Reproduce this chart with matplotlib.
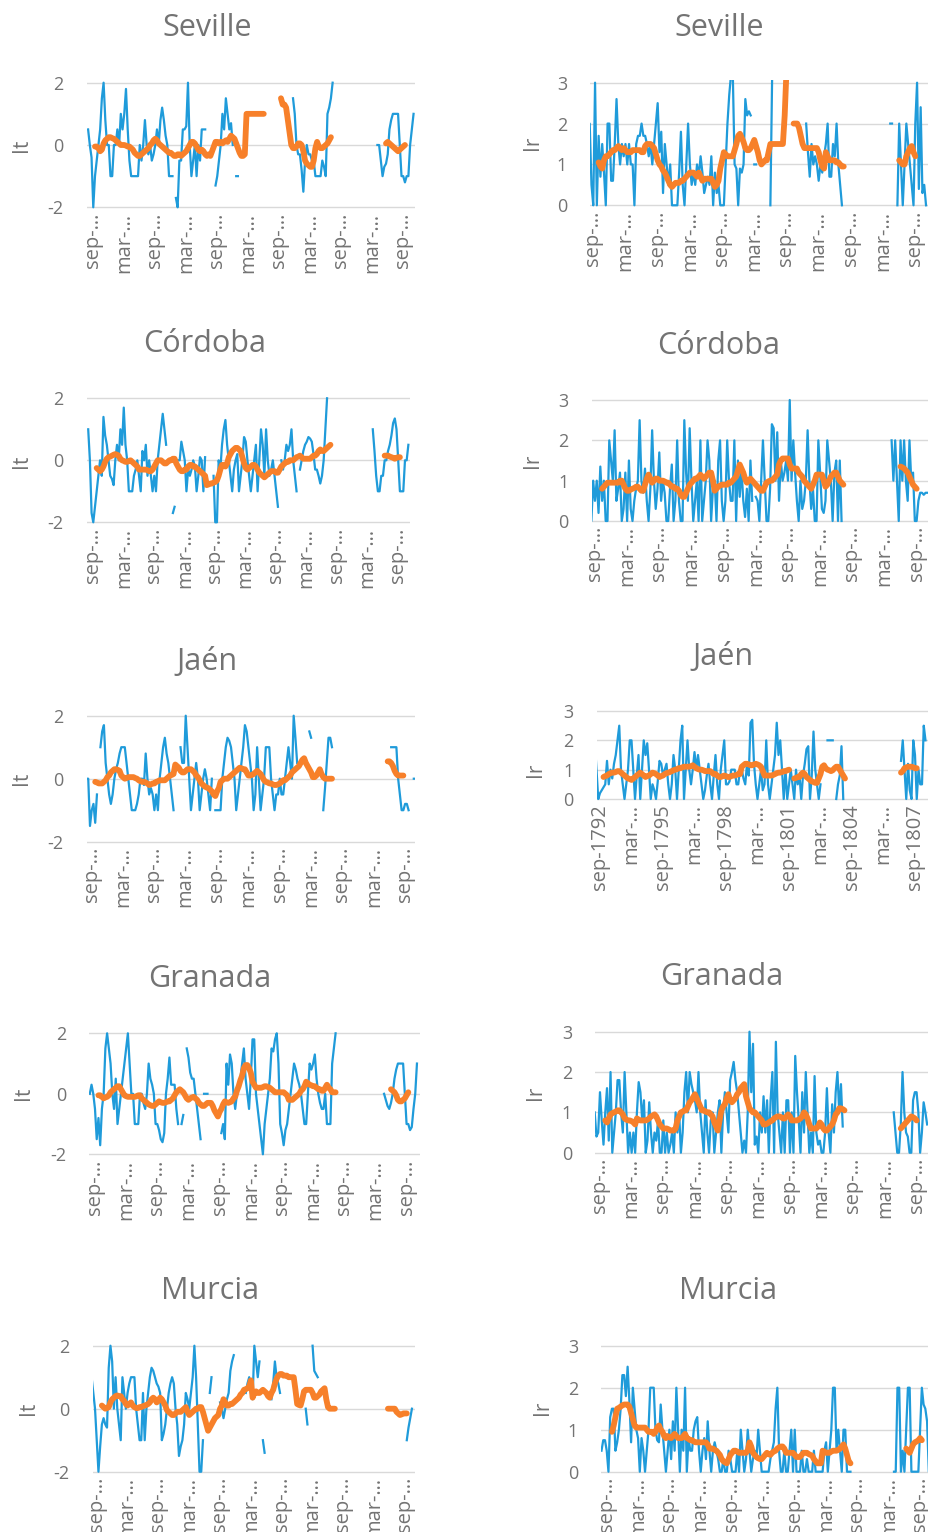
import numpy as np
import matplotlib.pyplot as plt

plt.rcParams['font.family'] = ['Open Sans', 'DejaVu Sans']

nan = np.nan

# monthly series, index 0 = jun-1792 ; blue = monthly index, orange = smoothed
sev_it = ([0.5, 0, -0.4, -2, -1, -0.5, 0, 0.5, 1.5, 2,
           0.8, 0, 0, -1, -1, 0, 0, 0.5, 0, 1,
           0.5, 1, 1.8, 0.5, -0.5, -1, -1, -1, -1, -1,
           0, -0.5, 0, 0.8, 0, -0.3, 0, -0.5, -0.3, 0,
           0.5, 0, 0.8, 1.2, 0.8, 0.3, 0, -1, -1, -1,
           nan, -1.7, -2, -0.5, -0.5, 0.5, 0.5, 0.6, 2, 0,
           -1, -0.5, 0, -1, 0, -0.5, 0.5, 0.5, 0.5, nan,
           nan, nan, nan, nan, -1.3, -1, -0.5, 0, 1, 0.5,
           1.5, 1, 0.5, 0.7, 0, nan, -1, -1]
          + [nan] * 31
          + [1.5, 1.0, 0, -0.3, -0.3, -0.8, -1.5, -0.5, 0, -0.3, -0.3, -0.5,
             -0.5, -1, -1, -1, -1, -0.5, -0.7, -1, 1, 1.2, 1.5, 2]
          + [nan] * 25
          + [0, 0, -0.5, -1, -0.7, -0.6, -0.3, 0.5, 0.8, 1, 1, 1, 1, 0, -1,
             -1, -1.2, -1, -1, 0, 0.5, 1])
sev_it_ma = ([nan] * 4
             + [-0.05, -0.05, -0.1, -0.2, -0.15, 0.05,
                0.15, 0.2, 0.25, 0.25, 0.22, 0.2, 0.15, 0.1, 0.05, 0.0,
                0.0, 0.0, -0.02, -0.05, -0.05, -0.1, -0.15, -0.25, -0.3, -0.35,
                -0.35, -0.3, -0.25, -0.2, -0.15, -0.1, 0.0, 0.05, 0.15, 0.2,
                0.15, 0.05, 0.0, -0.05, -0.1, -0.15, -0.2, -0.25, -0.25, -0.3,
                -0.35, -0.35, -0.3, -0.3, -0.35, -0.3, -0.25, -0.2, -0.1, 0.0,
                0.1, 0.1, 0.05, -0.05, -0.15, -0.2, -0.15, -0.2, -0.3, -0.35,
                -0.3, -0.35, -0.2, -0.05, 0.1, 0.1, 0.05, 0.1, 0.05, 0.1,
                0.15, 0.1, 0.2, 0.3, 0.25, 0.2, 0.05, -0.1, -0.25, -0.35,
                -0.35, -0.3, 1.0, 1.0, 1.0, 1.0, 1.0, 1.0, 1.0, 1.0,
                1.0, 1.0, 1.0]
             + [nan] * 9
             + [1.5, 1.3, 1.3, 1.2, 0.8, 0.4, 0.0, -0.1,
                -0.1, -0.05, 0.05, 0.05, 0.0, -0.2, -0.5, -0.6, -0.65, -0.7,
                -0.7, -0.5, -0.1, 0.1, -0.05, -0.1, -0.1, -0.05, 0.0, 0.05,
                0.15, 0.25]
             + [nan] * 31
             + [0.05, 0.1, 0.05, 0.0, -0.05, -0.1, -0.15, -0.2, -0.15, -0.1, -0.05, 0.0]
             + [nan] * 5)

sev_ir = ([2, 2, 0.5, 0, 3, 0, 1.7, 0.7, 1.5, 0.8,
           0, 2, 2, 0.6, 0.6, 1.5, 2.6, 1.5, 1, 1.5,
           1.2, 1.5, 1, 1.5, 1, 1, 0, 1.5, 1.7, 1.7,
           2, 1.7, 1.7, 1.5, 1.2, 1.5, 1, 1.5, 2, 2.5,
           1.3, 1.8, 0.3, 1.5, 1, 0.5, 1, 0, 0, 0,
           0, 0.8, 1.8, 0.5, 0, 1, 2, 1, 0.5, 0.8,
           0.5, 1, 0.7, 1.2, 0.8, 0.3, 0.5, 0.7, 0.5, 1.2,
           0, 0.8, 0.3, 0.5, 0, 0, 0, 1, 2, 2.7,
           3.2, 3.2, 1, 0.9, 0, 0.9, 0.8, 1, 2.6, 2.2,
           2.3, 2.2, nan, 1, 1]
          + [nan] * 7 + [0, 3.2] + [nan] * 18
          + [2, 1.3, 0.7, 1.5, 1, 1.2, 1, 0.6,
             1, 0.8, 1.2, 1.5, 2, 0.7, 0.7, 1.5, 1.2, 2,
             1, 0.5, 0]
          + [nan] * 26
          + [2, 2, nan, nan, 0, 2, 1, 0, 1, 2, 1.5, 1, 0.5, 0, 2, 3, 0.4, 2.4,
             0.3, 0.5, 0])
sev_ir_ma = ([nan] * 6
             + [1.05, 0.95, 0.9, 1.1,
                1.2, 1.2, 1.25, 1.3, 1.35, 1.35, 1.4, 1.45, 1.4, 1.35,
                1.4, 1.35, 1.3, 1.3, 1.3, 1.35, 1.35, 1.35, 1.35, 1.35,
                1.3, 1.3, 1.45, 1.5, 1.5, 1.5, 1.45, 1.4, 1.25, 1.1,
                1.0, 0.95, 0.85, 0.8, 0.7, 0.6, 0.5, 0.45, 0.5, 0.55,
                0.55, 0.55, 0.6, 0.6, 0.65, 0.7, 0.75, 0.8, 0.8, 0.8,
                0.75, 0.7, 0.8, 0.7, 0.6, 0.65, 0.65, 0.65, 0.65, 0.65,
                0.55, 0.45, 0.5, 0.6, 0.9, 1.1, 1.3, 1.25, 1.2, 1.2,
                1.2, 1.2, 1.35, 1.5, 1.7, 1.75, 1.65, 1.55, 1.4, 1.35,
                1.35, 1.4, 1.5, 1.6, 1.45, 1.3, 1.1, 1.0, 1.05, 1.1,
                1.1, 1.3, 1.5, 1.5, 1.5, 1.5, 1.5, 1.5, 1.5, 1.5,
                2.2, 3.3]
             + [nan] * 3
             + [2.0, 2.0, 2.0, 1.9, 1.7,
                1.5, 1.4, 1.4, 1.4, 1.4, 1.4, 1.4, 1.4, 1.4, 1.3,
                1.1, 0.95, 0.9, 1.3, 1.2, 1.1, 1.1, 1.1, 1.1, 1.05,
                1.05, 1.0, 0.95, 0.95]
             + [nan] * 30
             + [1.1, 1.05, 1.0, 1.0, 1.2, 1.3, 1.4, 1.45, 1.3, 1.2]
             + [nan] * 6)

cor_it = ([1, 0, -1.7, -2, -1.5, -1, -0.5, 0, -0.5, 1.4,
           0.8, 0.5, 0, -0.5, -0.6, -0.8, 0, 0.5, 0, 1,
           0.5, 1.7, 0.5, 0, -1, -1, -1, -0.5, -0.3, 0,
           -0.5, -1, 0.3, 0, 0.5, -0.5, 0, -0.5, -1, -0.5,
           -1, 0, 0.5, 1, 1.5, 1, 0.5, nan, nan, nan,
           -1.7, -1.5, nan, 0, 0, 0.6, 0.3, 0, -1, -0.3,
           -0.5, -0.3, 0, -0.2, -1, -0.5, 0.1, 0, -1, 0.1,
           nan, nan, nan, nan, -0.5, -2, -2, 0, -0.3, 0.5,
           1, 1.3, 0.5, 0, -0.5, -1, -0.3, 0, 0.2, -1,
           -0.5, 0, 0.75, 0.6, 0, -0.5, -1, -0.5, 0, 0.5,
           -1, 0, 1, 0.5, -0.5, 1, 0, -0.5, -0.3, 0,
           -0.5, -1, -1.5, nan, 0, -0.3, 0, 0.5, 0.3, 0.5,
           1, 0, -0.5, -1, nan, -0.3, 0, 0.3, 0.5, 0.6,
           0.75, 0.7, 0.6, 0.2, -0.3, -0.3, -0.5, -0.75, -0.5, 0,
           1, 2]
          + [nan] * 26
          + [1, 0.3, -0.5, -1, -1, -0.5, -0.5, 0, 0, 0.3, 0.5, 0.8, 1.2, 1.35,
             1, 0, -1, -1, -1, 0, 0, 0.5])
cor_it_ma = ([nan] * 5
             + [-0.25, -0.3, -0.35, -0.3, -0.2,
                -0.05, 0.05, 0.1, 0.12, 0.15, 0.18, 0.2, 0.18, 0.15, 0.05,
                0.0, -0.02, -0.05, -0.05, -0.02, 0.0, -0.05, -0.1, -0.15, -0.2,
                -0.3, -0.3, -0.3, -0.3, -0.3, -0.32, -0.35, -0.35, -0.3, -0.2,
                -0.1, 0.0, 0.0, 0.0, -0.05, -0.1, -0.1, -0.05, 0.0, 0.0,
                0.05, 0.05, -0.1, -0.2, -0.3, -0.35, -0.35, -0.3, -0.3, -0.2,
                -0.15, -0.15, -0.2, -0.2, -0.25, -0.3, -0.35, -0.4, -0.45, -0.5,
                -0.8, -0.78, -0.75, -0.75, -0.72, -0.7, -0.65, -0.5, -0.3, -0.15,
                -0.15, -0.2, -0.1, 0.1, 0.2, 0.3, 0.35, 0.4, 0.4, 0.35,
                0.3, 0.1, -0.1, -0.25, -0.3, -0.25, -0.2, -0.15, -0.15, -0.2,
                -0.3, -0.4, -0.45, -0.5, -0.55, -0.5, -0.45, -0.4, -0.35, -0.35,
                -0.35, -0.4, -0.4, -0.3, -0.2, -0.15, -0.1, -0.05, -0.05, 0.0,
                0.0, 0.0, 0.05, 0.1, 0.12, 0.15, 0.1, 0.05, 0.05, 0.05,
                0.05, 0.05, 0.1, 0.15, 0.15, 0.2, 0.3, 0.35, 0.3, 0.3,
                0.35, 0.4, 0.45, 0.5]
             + [nan] * 31
             + [0.15, 0.15, 0.15, 0.12, 0.1, 0.08, 0.05, 0.08, 0.1, 0.1]
             + [nan] * 5)

cor_ir = ([2, 0, 1, 0.5, 1, 0.2, 1.35, 0.5, 1, 0,
           0, 2, 1.5, 1, 2.25, 0.5, 0.8, 1.2, 0, 0.3,
           1.2, 0, 1.5, 0.3, 0, 0.5, 0.8, 1, 2.5, 1,
           0.7, 1.3, 0.5, 0, 0.8, 2.25, 1, 0.3, 0.8, 1.7,
           0.5, 1, 0.7, 0, 0, 0.8, 1.4, 0, 0.5, 2,
           0.5, 0, 0, 2.5, 1.2, 0.5, 2.3, 1, 0, 0.5,
           1, 0, 2, 0, 0.5, 1, 2, 1.5, 0, 0.8,
           1, 0, 1.5, 2, 0.5, 0, 0.5, 2, 1, 0.5,
           0.5, 2, 0, 1.5, 0.6, 1.3, 0.5, 0.1, 0.8, 0,
           1.5, 0.5, nan, 0.6, 0.5, 0, 1, 2, 1, 0,
           0, 0.8, 2.4, 2.3, 1, 2.2, 0.5, 1.5, 1, 1.2,
           1.5, 1, 3, 1, 2, 1.2, 0.5, 0, 1, 0.3,
           0.5, 1, 2.25, 1, 0.3, 0.8, 0, 0, 2, 1.2,
           0.3, 0.2, 0.5, 2, 1.5, 1, 0, 1.2, 1.5, 0,
           1.5, 0]
          + [nan] * 27
          + [2, 1, 2, 1, 0, 2, 1, 2, 1, 0.5, 2, 1, 1.2, 0, 0, 0.5, 0.7, 0.7,
             0.65, 0.7, 0.7])
cor_ir_ma = ([nan] * 7
             + [0.8, 0.85, 0.9,
                0.95, 0.95, 0.95, 0.95, 0.95, 0.95, 0.95, 1.0, 1.0, 0.9,
                0.8, 0.75, 0.75, 0.78, 0.8, 0.82, 0.85, 0.85, 0.8, 0.75,
                0.75, 0.9, 1.05, 1.15, 1.05, 0.95, 1.0, 1.05, 1.05, 1.0,
                1.0, 1.0, 0.98, 0.95, 0.95, 0.9, 0.85, 0.85, 0.8, 0.8,
                0.75, 0.65, 0.6, 0.6, 0.7, 0.8, 0.9, 0.95, 1.0, 1.05,
                1.05, 1.1, 1.15, 1.1, 1.05, 1.1, 1.15, 1.2, 1.2, 1.0,
                0.75, 0.8, 0.85, 0.88, 0.9, 0.9, 0.9, 0.9, 0.95, 0.95,
                1.0, 1.05, 1.1, 1.25, 1.4, 1.3, 1.2, 1.05, 0.95, 1.0,
                1.05, 1.0, 0.95, 0.9, 0.85, 0.8, 0.75, 0.75, 0.85, 0.95,
                0.98, 1.0, 1.0, 1.05, 1.1, 1.15, 1.4, 1.5, 1.55, 1.55,
                1.55, 1.55, 1.4, 1.3, 1.3, 1.3, 1.3, 1.2, 1.15, 1.1,
                1.0, 0.95, 0.9, 0.85, 0.8, 0.9, 1.0, 1.15, 1.15, 1.15,
                1.15, 1.0, 0.85, 0.9, 1.0, 1.1, 1.15, 1.2, 1.2, 1.1,
                1.0, 0.95, 0.9]
             + [nan] * 31
             + [1.35, 1.33, 1.3, 1.25, 1.2, 1.1, 1.0, 0.9, 0.85, 0.8]
             + [nan] * 6)

jae_it = ([0, 0, -1.5, -1, -0.8, -1.4, -0.5, nan, 1, 1.5,
           1.7, 0.5, 0, -0.5, -0.8, -0.5, 0, 0.3, 0.5, 0.8,
           1, 1, 1, 0.5, 0, -0.5, -1, -1, -1, -0.8,
           -0.5, 0, 0, -0.2, 0.8, 0, -0.5, -0.3, -0.5, -1,
           -0.5, -1, 0, 0.5, 1, 1.3, 0.8, 0.5, 0, -0.5,
           -1, nan, nan, nan, 1, 0.5, 0.5, 2, 1, 0,
           -1, -0.5, 0, 0.5, 0, -1, -0.5, 0, 0.3, 0,
           -0.5, -1, 0, nan, -1, -1, -1, -1, 0, 0.5,
           1, 1.3, 1.2, 1, 0.5, 0, -1, -0.5, 0, 0.5,
           1, 1.7, 1.5, 1, 0.5, 0, -1, -0.5, 1, 0,
           -1, -0.5, 0, 1, 1, 1, 0, -0.5, -1, -0.5,
           -0.5, 0, -0.5, -0.5, 0, 0.5, 1, 0.5, 0, 2,
           1.3, 0.5, nan, nan, nan, nan, nan, nan, 1.5, 1.3,
           nan, nan, nan, nan, nan, nan, -1, -0.3, 0.5, 1.3,
           1.3, 1]
          + [nan] * 33
          + [1, 1, 1, 1, 0, -0.5, -1, -1, -0.8, -0.8, -1, nan, nan, 0, 0])
jae_it_ma = ([nan] * 5
             + [-0.1, -0.12, -0.15, -0.15, -0.15,
                -0.1, -0.05, 0.05, 0.1, 0.2, 0.25, 0.3, 0.3, 0.28, 0.25,
                0.1, 0.05, 0.0, 0.02, 0.05, 0.05, 0.05, 0.05, 0.02, 0.0,
                -0.05, -0.08, -0.1, -0.1, -0.12, -0.15, -0.2, -0.18, -0.15, -0.15,
                -0.1, -0.08, -0.05, -0.05, -0.05, -0.05, 0.0, 0.05, 0.1, 0.12,
                0.15, 0.45, 0.4, 0.35, 0.25, 0.2, 0.2, 0.25, 0.3, 0.3,
                0.3, 0.25, 0.2, 0.1, 0.05, -0.05, -0.15, -0.2, -0.25, -0.28,
                -0.3, -0.35, -0.4, -0.5, -0.55, -0.4, -0.3, -0.1, -0.05, 0.0,
                0.0, 0.0, 0.05, 0.1, 0.15, 0.2, 0.25, 0.3, 0.35, 0.33,
                0.3, 0.3, 0.2, 0.1, 0.1, 0.12, 0.15, 0.2, 0.25, 0.2,
                0.15, 0.05, -0.05, -0.1, -0.12, -0.15, -0.15, -0.18, -0.2, -0.2,
                -0.18, -0.15, -0.1, -0.05, -0.05, 0.0, 0.05, 0.1, 0.2, 0.25,
                0.3, 0.35, 0.4, 0.5, 0.6, 0.65, 0.5, 0.4, 0.3, 0.2,
                0.05, 0.05, 0.1, 0.2, 0.3, 0.15, 0.05, 0.0, 0.0, 0.0,
                0.0, 0.0]
             + [nan] * 31
             + [0.55, 0.55, 0.5, 0.4, 0.25, 0.15, 0.1, 0.1, 0.1, 0.1]
             + [nan] * 7)

jae_ir = ([2, 1, 0, 0.2, 0.3, 0.4, 0.5, 1.3, 0.5, 1,
           0.7, 1.2, 1.5, 2, 2.5, 1, 0.5, 0, 0.5, 1,
           2, 2, 1, 0, 0.8, 1.5, 0, 1, 2, 1.5,
           1.9, 1, 0, 0.5, 0.3, 0, 0.6, 1.3, 1.2, 0.8,
           1, 1.2, 0.5, 0, 0.5, 1.5, 1, 0, 1, 2,
           2.5, 0, 1, 2, 1, 0.5, 1, 1.6, 1, 1.5,
           1, 0.5, 0, 0.3, 0.8, 1.2, 0.5, 0, 0.8, 1.5,
           0.5, 0, 1, 1.5, 2, 0.5, 0.5, 0.6, 1, 1,
           1, 0.5, 0.5, 1, 1, 0.7, 0.5, 1.2, 0.8, 2.6,
           2.7, 1.2, 0.5, 0, 0.5, 1, 0.3, 0.5, 2, 0.5,
           0, 0.5, 1, 1.5, 2.6, 1.5, 2, 1, 0, 1,
           0, 0.5, 1, 0.5, 0, 1, 0.5, 0.8, 0, 0.8,
           1.2, 1.7, 1.8, 0, 0.8, 2.3, 1, 0.5, 0, 0.5,
           nan, 0.1, nan, 2, 2, 2, 2, nan, 0, 0.5,
           0.8, 1.8, 0]
          + [nan] * 32
          + [1.3, 2, 1, 0, 1.2, 0.3, 0, 2, 1.5, 0, 1, 0.5, 0.5, 2.5, 2])
jae_ir_ma = ([nan] * 5
             + [0.75, 0.78, 0.8, 0.85, 0.88,
                0.9, 0.9, 0.92, 0.95, 0.95, 0.9, 0.85, 0.8, 0.75, 0.7,
                0.68, 0.65, 0.7, 0.75, 0.8, 0.85, 0.9, 0.85, 0.8, 0.75,
                0.78, 0.8, 0.85, 0.9, 0.88, 0.85, 0.8, 0.75, 0.78, 0.8,
                0.85, 0.88, 0.9, 0.92, 0.95, 0.98, 1.0, 1.02, 1.05, 1.05,
                1.08, 1.1, 1.1, 1.1, 1.1, 1.12, 1.15, 1.1, 1.05, 1.02,
                1.0, 1.0, 0.98, 0.95, 0.95, 0.95, 0.95, 0.9, 0.85, 0.85,
                0.8, 0.75, 0.75, 0.78, 0.8, 0.78, 0.75, 0.75, 0.78, 0.8,
                0.8, 0.82, 0.85, 0.85, 1.1, 1.15, 1.2, 1.2, 1.18, 1.15,
                1.15, 1.18, 1.2, 1.18, 1.15, 1.1, 0.95, 0.8, 0.8, 0.8,
                0.8, 0.8, 0.82, 0.85, 0.88, 0.9, 0.9, 0.92, 0.95, 0.95,
                0.98, 1.0]
             + [nan, nan]
             + [0.7, 0.72, 0.75, 0.75, 0.85, 0.9,
                0.85, 0.75, 0.7, 0.65, 0.6, 0.58, 0.55, 0.55, 0.7, 0.85,
                1.1, 1.15, 1.05, 1.0, 0.98, 0.95, 0.98, 1.05, 1.1, 1.1,
                1.0, 0.9, 0.8, 0.7]
             + [nan] * 31
             + [0.9, 0.95, 1.05, 1.08, 1.1, 1.1, 1.1, 1.08, 1.05, 1.05]
             + [nan] * 5)

gra_it = ([0, 0.3, 0, -0.5, -1.5, -0.8, -1.7, -0.5, 0, 1.5,
           2, 1.5, 1, 0, -0.5, 0.5, -1, -0.5, 0, 0.5,
           1, 1.5, 2, 1, 0, 0, -1, -1, -1, 0,
           0, -0.3, -0.5, 0, 1, 0.5, 0.3, 0, -1, -1,
           -1.2, -1.5, -1.6, -1.3, 0, 0.5, 1.2, 0.3, 0.3, 0.3,
           -0.5, -1, nan, -1, -0.7, nan, 1.5, 1.2, 0.7, 0.5,
           0.5, 0, -0.5, -1, -1.5, nan, 0, 0, 0, nan,
           nan, nan, nan, nan, nan, nan, -1.3, -1, -1.5, 1,
           0.3, 1.3, 1, 0, -0.5, 0, 0.3, 0.5, 1, 1.5,
           0.5, 0, -0.5, 0.5, 1.8, 1.8, 0, -0.5, -1, -1.5,
           -2, -1, -0.5, 0, 0.5, 1.5, 1.4, 1.8, 2, 1,
           -1, -1.3, -1.7, -1.2, -1, -0.5, 0, 0.5, 1, 0.8,
           0.5, 0.3, 0, -0.5, -1, -1, 0, 1, 0.8, 1,
           1.3, 0.5, 0, -0.3, -0.5, -0.5, 0, -1, -1, -1,
           1, 1.5, 2]
          + [nan] * 27
          + [0, -0.2, -0.4, -0.5, -0.3, 0, 0.5, 0.8, 1, 1, 1, 1, 0, -1, -1,
             -1.2, -1.1, -0.5, 0, 1])
gra_it_ma = ([nan] * 5
             + [-0.05, -0.05, -0.1, -0.15, -0.12,
                -0.1, -0.05, 0.05, 0.1, 0.15, 0.2, 0.25, 0.25, 0.15, 0.05,
                -0.05, -0.08, -0.1, -0.1, -0.1, -0.1, -0.1, -0.08, -0.05, -0.05,
                -0.15, -0.2, -0.25, -0.3, -0.35, -0.38, -0.4, -0.4, -0.35, -0.3,
                -0.25, -0.28, -0.3, -0.3, -0.28, -0.25, -0.25, -0.2, -0.15, -0.05,
                0.05, 0.1, 0.15, 0.1, 0.05, -0.05, -0.15, -0.2, -0.15, -0.12,
                -0.1, -0.15, -0.2, -0.3, -0.35, -0.4, -0.4, -0.35, -0.3, -0.3,
                -0.3, -0.4, -0.55, -0.65, -0.75, -0.6, -0.5, -0.35, -0.25, -0.28,
                -0.3, -0.28, -0.25, -0.15, -0.1, 0.1, 0.25, 0.45, 0.6, 0.85,
                0.95, 0.95, 0.85, 0.7, 0.4, 0.3, 0.2, 0.2, 0.2, 0.2,
                0.22, 0.25, 0.25, 0.22, 0.2, 0.15, 0.1, 0.05, 0.05, 0.05,
                0.05, 0.05, 0.05, 0.0, -0.05, -0.2, -0.2, -0.2, -0.15, -0.1,
                -0.05, 0.0, 0.1, 0.15, 0.25, 0.4, 0.35, 0.3, 0.28, 0.25,
                0.25, 0.2, 0.15, 0.15, 0.1, 0.1, 0.2, 0.3, 0.2, 0.15,
                0.05, 0.05, 0.05]
             + [nan] * 31
             + [0.15, 0.1, 0.05, -0.05, -0.2, -0.25, -0.25, -0.2, -0.15, -0.05, 0.05]
             + [nan] * 5)

gra_ir = ([1, 0.4, 0.5, 1.5, 0.8, 0.2, 1, 1.6, 0.3, 2,
           0, 0.5, 1, 1.8, 1.8, 1, 0.5, 2, 1, 0,
           0.5, 0, 0.5, 0, 1, 1.75, 1.5, 0.8, 1.3, 0,
           0.3, 1.25, 0.5, 0, 0.5, 0.3, 0.8, 0, 0, 0.8,
           0, 0.5, 0, 0.2, 0.5, 0, 1, 0.5, 1, 0,
           0.5, 1.5, 2, 1, 2, 1.7, 1.5, 1.3, 1, 2,
           1, 0.5, 0, 1.3, 0.5, 0, 0.8, 1, 0, 0.5,
           1, 1.3, 0, 1, 1.5, 1, 0.5, 1.8, 2, 2.25,
           1.8, 1.5, 1, 0.5, 0, 0.3, 0, 1, 3, 1.5,
           2.7, 0.2, 0.4, 0, 1, 0.5, 1.4, 0.5, 1.3, 0,
           1.3, 2, 0, 2.75, 1, 0.5, 0, 1, 0, 1.3,
           1.3, 0, 1, 0, 2.4, 1.5, 0.8, 0, 1.5, 0.5,
           2, 1, 0, 0.5, 0, 1.9, 0.5, 0.2, 0.3, 0,
           0, 0.5, 1.6, 0.5, 0, 1.2, 0.5, 1.5, 2, 1,
           1.7, 0.65]
          + [nan] * 28
          + [1, 0.5, 0, 0, 0.7, 2, 1, 0.5, 0.4, 0, 0, 1.3, 1.5, 1.5, 1, 0,
             0.5, 1.25, 1, 0.7])
gra_ir_ma = ([nan] * 6
             + [0.8, 0.75, 0.85, 0.95,
                0.98, 1.0, 1.02, 1.05, 1.05, 1.0, 0.95, 0.85, 0.82, 0.8,
                0.8, 0.78, 0.75, 0.7, 0.85, 0.82, 0.8, 0.8, 0.8, 0.8,
                0.82, 0.85, 0.9, 0.92, 0.95, 0.9, 0.8, 0.7, 0.65, 0.6,
                0.6, 0.6, 0.58, 0.55, 0.55, 0.55, 0.6, 0.8, 0.9, 1.0,
                1.02, 1.05, 1.05, 1.15, 1.25, 1.3, 1.38, 1.45, 1.35, 1.25,
                1.15, 1.05, 1.05, 1.02, 1.0, 1.0, 0.95, 0.9, 0.75, 0.65,
                0.55, 0.8, 1.05, 1.15, 1.2, 1.35, 1.45, 1.3, 1.25, 1.3,
                1.35, 1.45, 1.5, 1.6, 1.65, 1.7, 1.4, 1.25, 1.1, 1.05,
                1.0, 1.0, 0.95, 0.9, 0.85, 0.8, 0.7, 0.7, 0.72, 0.75,
                0.78, 0.8, 0.85, 0.88, 0.9, 0.9, 0.88, 0.85, 0.85, 0.9,
                0.95, 0.9, 0.8, 0.8, 0.8, 0.8, 0.82, 0.85, 0.9, 1.0,
                0.95, 0.85, 0.7, 0.6, 0.6, 0.6, 0.6, 0.65, 0.75, 0.7,
                0.6, 0.55, 0.55, 0.6, 0.65, 0.7, 0.8, 0.95, 1.0, 1.1,
                1.1, 1.08, 1.05]
             + [nan] * 31
             + [0.6, 0.65, 0.7, 0.75, 0.8, 0.85, 0.9, 0.88, 0.85, 0.8]
             + [nan] * 6)

mur_it = ([1, 0.5, 0, -1, -2, -1.2, -0.5, -0.3, -0.5, -0.6,
           1.3, 2, 1.5, 0, 1, 0, -0.5, -1, 1, 0.5,
           0, 0.5, 0.8, 1, 1, 1, 0, -0.5, -1, -1,
           0.5, -1, 0, 0.5, 1, 1.3, 1.2, 1, 0.8, 0.7,
           0.5, -1, -0.8, -0.5, 0, 0.5, 0.8, 1, 0.8, 0,
           -0.5, -1.5, -1.2, -1, -0.5, 0.5, 0.3, 0, 0.5, 1,
           2, 1, -0.5, -2, -2, -1, nan, nan, nan, 0.5,
           1, nan, nan, nan, nan, 0.2, 0, -0.3, 0, 0.3,
           0.5, 1.2, 1.5, 1.7, nan, nan, nan, nan, nan, nan,
           0.5, 0.8, 1, 0.5, 0.3, 2, 1.5, 1, 1.5, nan,
           -1, -1.4, nan, nan, nan, 0.3, 0.8, 1.5, 1, 0.8,
           0.5, nan, nan, nan, nan, nan, nan, nan, nan, nan,
           nan, nan, nan, nan, nan, 0, -0.5, nan, nan, 2,
           1.2, 1.1, 1, nan, nan, nan, nan, nan, nan, nan]
          + [nan] * 44
          + [-1, -0.6, -0.3, 0, nan, nan])
mur_it_ma = ([nan] * 6
             + [0.1, 0.05, 0.0, 0.02,
                0.05, 0.2, 0.3, 0.35, 0.4, 0.42, 0.4, 0.4, 0.3, 0.25,
                0.15, 0.1, 0.15, 0.2, 0.1, 0.05, 0.02, 0.02, 0.05, 0.05,
                0.08, 0.1, 0.12, 0.15, 0.2, 0.3, 0.35, 0.3, 0.2, 0.25,
                0.35, 0.3, 0.2, 0.1, -0.05, -0.1, -0.15, -0.2, -0.2, -0.15,
                -0.1, -0.1, -0.1, -0.05, 0.0, 0.05, -0.1, -0.2, -0.15, -0.1,
                -0.05, 0.0, 0.0, 0.05, 0.05, -0.1, -0.3, -0.5, -0.7, -0.6,
                -0.5, -0.4, -0.3, -0.25, -0.2, 0.0, 0.1, 0.3, 0.2, 0.1,
                0.1, 0.15, 0.15, 0.2, 0.25, 0.3, 0.35, 0.45, 0.5, 0.6,
                0.62, 0.65, 0.7, 0.9, 0.35, 0.5, 0.55, 0.5, 0.5, 0.55,
                0.6, 0.55, 0.5, 0.4, 0.35, 0.5, 0.6, 0.8, 0.95, 1.05,
                1.1, 1.1, 1.05, 1.05, 1.05, 1.0, 1.0, 1.0, 1.0, 0.6,
                0.15, 0.12, 0.1, 0.3, 0.55, 0.6, 0.6, 0.6, 0.6, 0.5,
                0.35, 0.35, 0.4, 0.45, 0.55, 0.6, 0.65, 0.3, 0.05, 0.0,
                0.0, 0.0, 0.0]
             + [nan] * 30
             + [0.0, 0.0, 0.0, 0.0, 0.0, -0.1, -0.15, -0.2, -0.18, -0.15, -0.15, -0.15]
             + [nan] * 5)

mur_ir = ([0.5, 0.75, 0.75, 0.5, 0, 1.3, 1.5, 1.5, 0.5, 0.7,
           1, 1.5, 2.3, 2.3, 1.8, 2.5, 1.7, 0.7, 2, 1.5,
           1, 0.8, 0, 0.8, 0.5, 0, 0.5, 1, 2, 2,
           2, 1, 0.75, 0.7, 1.6, 1, 0.5, 0, 0.5, 1,
           0.3, 1.2, 0.5, 2, 1, 0, 1, 0.5, 2, 0,
           0.8, 0.5, 0.5, 1, 1.2, 1.3, 0.5, 0, 0.5, 0.8,
           0.3, 1.2, 0.5, 0, 0.5, 0.7, 0.5, 0.3, 0, 0,
           0.3, 0, 0, 0.5, 0.3, 0, 0, 0, 0.5, 0,
           1, 0.5, 0, 0.3, 1, 0.5, 0, 0.3, 0.5, 0.3,
           1, 0.5, 0, 0, 0, 0, 0, 0.3, 0.5, 0.7,
           1.5, 2, 0.5, 0, 0, 0.5, 0, 0, 0.5, 1,
           0, 1, 0, 0, 0, 0.5, 0, 0, 0.3, 0,
           0, 0, 0.5, 0, 0, 0, 0, 0, 0.5, 0.7,
           0, 0.5, 1, 2, 2, 0.5, 1, 0.5, 0, 1,
           1, 0, 0, 0]
          + [nan] * 24
          + [0, 0, 2, 2, 0, 0.5, 0, 1, 2, 2, 0, 0, 0, 0, 0, 1, 2, 1.6, 1.5,
             1.2, 0, 0])
mur_ir_ma = ([nan] * 6
             + [0.95, 1.1, 1.3, 1.5,
                1.52, 1.55, 1.58, 1.6, 1.6, 1.6, 1.55, 1.4, 1.25, 1.1,
                1.05, 1.05, 1.05, 1.05, 1.05, 1.05, 1.0, 0.95, 0.95, 0.95,
                0.9, 0.95, 1.05, 1.1, 1.0, 0.95, 0.85, 0.8, 0.85, 0.82,
                0.8, 0.85, 0.9, 0.85, 0.8, 0.8, 0.8, 0.85, 0.9, 0.8,
                0.78, 0.75, 0.75, 0.72, 0.7, 0.7, 0.7, 0.7, 0.7, 0.7,
                0.7, 0.65, 0.55, 0.55, 0.55, 0.52, 0.5, 0.45, 0.4, 0.3,
                0.25, 0.22, 0.2, 0.3, 0.4, 0.45, 0.5, 0.5, 0.48, 0.45,
                0.45, 0.45, 0.45, 0.45, 0.5, 0.7, 0.6, 0.45, 0.4, 0.35,
                0.32, 0.3, 0.3, 0.35, 0.4, 0.45, 0.42, 0.4, 0.45, 0.48,
                0.5, 0.55, 0.58, 0.6, 0.6, 0.55, 0.45, 0.45, 0.45, 0.45,
                0.45, 0.4, 0.35, 0.35, 0.35, 0.4, 0.45, 0.45, 0.45, 0.42,
                0.4, 0.38, 0.3, 0.25, 0.2, 0.2, 0.2, 0.5, 0.48, 0.45,
                0.45, 0.45, 0.48, 0.5, 0.5, 0.5, 0.52, 0.55, 0.6, 0.65,
                0.55, 0.4, 0.25, 0.2]
             + [nan] * 31
             + [0.55, 0.5, 0.45, 0.55, 0.65, 0.7, 0.72, 0.75, 0.8, 0.75]
             + [nan] * 5)

tick_idx = [3 + 18 * k for k in range(11)]
ticks_short = ["sep-…", "mar-…"] * 5 + ["sep-…"]
ticks_long = ["sep-1792", "mar-…", "sep-1795", "mar-…", "sep-1798", "mar-…",
              "sep-1801", "mar-…", "sep-1804", "mar-…", "sep-1807"]

BLUE = "#1F9BDA"
ORANGE = "#F7802A"
GREY = "#737373"
W, H = 929, 1532

# title, ylabel, blue, orange, kind, ticklabels,
# x of first month, px per month, plot left, plot right, y top grid, y bottom grid,
# title xy, ylabel xy (pixels)
panels = [
    ("Seville", "It", sev_it, sev_it_ma, "t", ticks_short,
     88.1, 1.722, 86.7, 415, 82.7, 207.3, (207, 28), (22, 145)),
    ("Seville", "Ir", sev_ir, sev_ir_ma, "r", ticks_short,
     587.9, 1.789, 590, 929, 82.7, 205.3, (719, 28), (533, 143)),
    ("Córdoba", "It", cor_it, cor_it_ma, "t", ticks_short,
     88.2, 1.694, 86.7, 410, 398.3, 522.3, (205, 344), (22, 461)),
    ("Córdoba", "Ir", cor_ir, cor_ir_ma, "r", ticks_short,
     589.6, 1.787, 591.7, 929, 400, 521, (719, 346), (533, 461)),
    ("Jaén", "It", jae_it, jae_it_ma, "t", ticks_short,
     86.5, 1.741, 86.7, 415, 715.7, 841.7, (207, 662), (22, 778)),
    ("Jaén", "Ir", jae_ir, jae_ir_ma, "r", ticks_long,
     594.75, 1.75, 596.7, 929, 711, 799, (723, 657), (536, 770)),
    ("Granada", "It", gra_it, gra_it_ma, "t", ticks_short,
     89.8, 1.731, 89.3, 420, 1033.3, 1154.3, (210, 979), (24, 1093)),
    ("Granada", "Ir", gra_ir, gra_ir_ma, "r", ticks_short,
     594.7, 1.759, 595, 929, 1031.7, 1152.7, (722, 977), (536, 1093)),
    ("Murcia", "It", mur_it, mur_it_ma, "t", ticks_short,
     91.6, 1.713, 92.7, 415, 1345.7, 1471.7, (210, 1291), (28, 1408)),
    ("Murcia", "Ir", mur_ir, mur_ir_ma, "r", ticks_short,
     601.5, 1.741, 601, 929, 1345.7, 1471.7, (728, 1291), (542, 1408)),
]

fig = plt.figure(figsize=(W / 100, H / 100), dpi=100)

for (title, ylab, blue, orange, kind, tlabels, x0, ppm, gl, gr, yt, yb,
     tpos, lpos) in panels:
    if kind == "t":
        ymin, ymax, yticks = -2, 2, [-2, 0, 2]
    else:
        ymin, ymax, yticks = 0, 3, [0, 1, 2, 3]
    pad = 3
    vpp = (ymax - ymin) / (yb - yt)
    ax = fig.add_axes([gl / W, 1 - (yb + pad) / H, (gr - gl) / W,
                       (yb - yt + 2 * pad) / H])
    ax.set_ylim(ymin - pad * vpp, ymax + pad * vpp)
    ax.set_xlim((gl - x0) / ppm, (gr - x0) / ppm)
    ax.plot(np.arange(len(blue)), blue, color=BLUE, lw=1.6,
            solid_joinstyle="round")
    ax.plot(np.arange(len(orange)), orange, color=ORANGE, lw=4.2,
            solid_capstyle="round", solid_joinstyle="round")
    ax.set_yticks(yticks)
    ax.set_yticklabels([str(v) for v in yticks])
    ax.set_xticks(tick_idx)
    ax.set_xticklabels(tlabels, rotation=90)
    ax.tick_params(length=0, labelcolor=GREY)
    ax.tick_params(axis="y", pad=16.5, labelsize=13)
    ax.tick_params(axis="x", pad=1.5, labelsize=14.5)
    for s in ax.spines.values():
        s.set_visible(False)
    ax.grid(axis="y", color="#D9D9D9", lw=1.0)
    ax.set_axisbelow(True)
    ax.patch.set_alpha(0)

    fig.text(tpos[0] / W, 1 - tpos[1] / H, title, ha="center", va="center",
             fontsize=22, color=GREY)
    fig.text(lpos[0] / W, 1 - lpos[1] / H, ylab, ha="center", va="center",
             rotation=90, fontsize=15, color=GREY)

fig.savefig("out.png", dpi=100, facecolor="white")
